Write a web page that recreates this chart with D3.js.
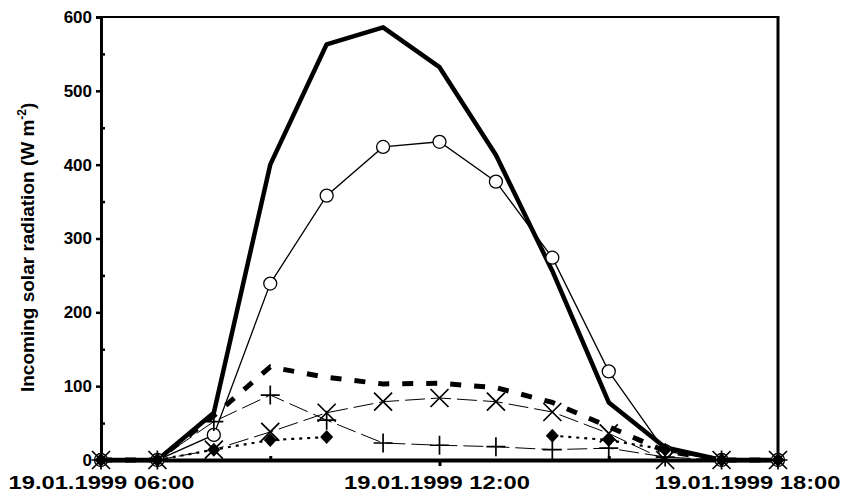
<!DOCTYPE html>
<html><head><meta charset="utf-8">
<script src="https://cdn.jsdelivr.net/npm/d3@7"></script>
<style>body{margin:0;background:#fff}svg{display:block}text{font-family:"Liberation Sans",Arial,sans-serif;font-weight:bold}</style>
</head><body><svg id="c" width="848" height="495"></svg>
<script>
const hours = [6,7,8,9,10,11,12,13,14,15,16,17,18];
const globalRad = [0,0,64,400,563,586,532,413,256,78,17,0,0];
const circleSeries = [0,0,34,239,358,424,431,377,274,120,12,0,0];
const thickDashSeries = [0,0,60,126,112,103,104,98,78,45,12,0,0];
const crossSeries = [0,0,14,38,64,79,84,79,65,36,0,0,0];
const plusSeries = [0,0,52,88,54,23,20,18,14,16,4,0,0];
const diamondSeries = [0,0,14,27,31,null,null,null,33,27,14,0,0];
const yTicks = [0,100,200,300,400,500,600];
const xTickHours = [6,12,18];
const xTickLabels = ["19.01.1999 06:00","19.01.1999 12:00","19.01.1999 18:00"];
const yLabel = "Incoming solar radiation (W m";

const svg = d3.select("#c");
const x = d3.scaleLinear().domain([6,18]).range([101,778]);
const y = d3.scaleLinear().domain([0,600]).range([460,17]);

function series(vals){ return hours.map((h,i)=>({h, v: vals[i]})); }
const line = d3.line().defined(d=>d.v!==null).x(d=>x(d.h)).y(d=>y(d.v));

// frame
svg.append("line").attr("x1",x(6)).attr("x2",x(18)+1).attr("y1",y(600)).attr("y2",y(600)).attr("stroke","#000").attr("stroke-width",2);
svg.append("line").attr("x1",x(18)).attr("x2",x(18)).attr("y1",y(600)-1).attr("y2",y(0)).attr("stroke","#000").attr("stroke-width",3);

// y axis
const yAxis = d3.axisLeft(y).tickValues(yTicks).tickSize(5).tickPadding(4).tickFormat(d3.format("d"));
const gy = svg.append("g").attr("transform",`translate(${x(6)},0)`).call(yAxis);
gy.select(".domain").attr("stroke-width",3);
gy.selectAll(".tick line").attr("stroke-width",2.5);
gy.selectAll(".tick text").attr("font-size",17).attr("font-family","Liberation Sans").attr("font-weight","bold");
const gym = svg.append("g").attr("transform",`translate(${x(6)},0)`).call(d3.axisRight(y).tickValues([50,150,250,350,450,550]).tickSize(4).tickFormat(""));
gym.select(".domain").remove();
gym.selectAll(".tick line").attr("stroke-width",2.5);

// x axis
const xAxis = d3.axisBottom(x).tickValues(xTickHours).tickSize(6).tickPadding(10).tickFormat((d,i)=>xTickLabels[i]);
const gx = svg.append("g").attr("transform",`translate(0,${y(0)})`).call(xAxis);
gx.select(".domain").attr("stroke-width",4);
gx.selectAll(".tick line").attr("stroke-width",3);
gx.selectAll(".tick text").attr("font-size",18.5).attr("font-family","Liberation Sans").attr("font-weight","bold")
  .attr("textLength",186).attr("lengthAdjust","spacingAndGlyphs");
gx.selectAll(".tick text").filter((d,i)=>i===1).attr("dx",-3);
gx.selectAll(".tick text").filter((d,i)=>i===2).attr("text-anchor","end").attr("dx",62);
const gxm = svg.append("g").attr("transform",`translate(0,${y(0)})`).call(d3.axisTop(x).tickValues([9,15]).tickSize(4).tickFormat(""));
gxm.select(".domain").remove();
gxm.selectAll(".tick line").attr("stroke-width",3);

// y label
const yl = svg.append("text").attr("transform",`translate(34,${y(288)}) rotate(-90)`).attr("text-anchor","middle").attr("font-size",19);
yl.append("tspan").text(yLabel);
yl.append("tspan").attr("font-size",12).attr("dy",-8).text("-2");
yl.append("tspan").attr("dy",8).text(")");

const plot = svg.append("g");
plot.append("path").datum(series(globalRad)).attr("d",line).attr("fill","none").attr("stroke","#000").attr("stroke-width",4.5).attr("stroke-linejoin","round");
const cs = series(circleSeries);
plot.append("path").datum(cs).attr("d",line).attr("fill","none").attr("stroke","#000").attr("stroke-width",1.3);
plot.selectAll(".circ").data(cs).join("circle").attr("cx",d=>x(d.h)).attr("cy",d=>y(d.v)).attr("r",6.5).attr("fill","#fff").attr("stroke","#000").attr("stroke-width",1.3);
plot.append("path").datum(series(thickDashSeries)).attr("d",line).attr("fill","none").attr("stroke","#000").attr("stroke-width",5).attr("stroke-dasharray","11,13");
const xs = series(crossSeries);
plot.append("path").datum(xs).attr("d",line).attr("fill","none").attr("stroke","#000").attr("stroke-width",1).attr("stroke-dasharray","20,6");
plot.selectAll(".cross").data(xs).join("path").attr("d",d=>{const cx=x(d.h),cy=y(d.v),s=9;return `M${cx-s},${cy-s}L${cx+s},${cy+s}M${cx-s},${cy+s}L${cx+s},${cy-s}`;}).attr("stroke","#000").attr("stroke-width",1.7);
const ps = series(plusSeries);
plot.append("path").datum(ps).attr("d",line).attr("fill","none").attr("stroke","#000").attr("stroke-width",1).attr("stroke-dasharray","20,6");
plot.selectAll(".plus").data(ps).join("path").attr("d",d=>{const cx=x(d.h),cy=y(d.v),s=9.5;return `M${cx-s},${cy}L${cx+s},${cy}M${cx},${cy-s}L${cx},${cy+s}`;}).attr("stroke","#000").attr("stroke-width",1.7);
const ds = series(diamondSeries);
plot.append("path").datum(ds).attr("d",line).attr("fill","none").attr("stroke","#000").attr("stroke-width",2.2).attr("stroke-dasharray","3,5");
plot.selectAll(".dia").data(ds.filter(d=>d.v!==null)).join("path").attr("d",d=>{const cx=x(d.h),cy=y(d.v);return `M${cx},${cy-7}L${cx+6.5},${cy}L${cx},${cy+7}L${cx-6.5},${cy}Z`;}).attr("fill","#000");
</script></body></html>
